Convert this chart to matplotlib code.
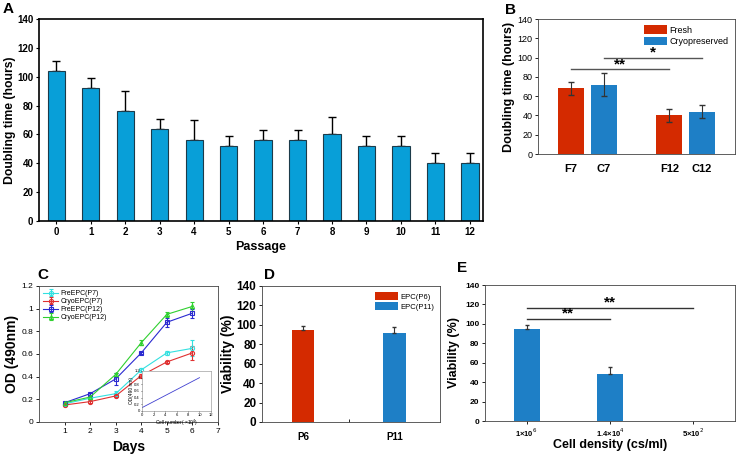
import numpy as np
import matplotlib.pyplot as plt

plt.rcParams['font.family'] = ['Liberation Sans', 'DejaVu Sans']

W, H = 746, 455

# ---------------- data ----------------
passages = list(range(13))
dt_mean = [104, 92, 76, 64, 56, 52, 56, 56, 60, 52, 52, 40, 40]
dt_err = [7, 7, 14, 7, 14, 7, 7, 7, 12, 7, 7, 7, 7]

b_labels = ['F7', 'C7', 'F12', 'C12']
b_mean = [68, 72, 40, 44]
b_err = [7, 12, 7, 7]

days = [1, 2, 3, 4, 5, 6]
c_series = {
    'FreEPC(P7)': ([0.16, 0.21, 0.25, 0.46, 0.61, 0.65], [0.01, 0.01, 0.02, 0.02, 0.02, 0.07]),
    'CryoEPC(P7)': ([0.15, 0.18, 0.23, 0.41, 0.53, 0.61], [0.01, 0.01, 0.01, 0.01, 0.01, 0.06]),
    'FreEPC(P12)': ([0.17, 0.25, 0.38, 0.61, 0.88, 0.96], [0.01, 0.01, 0.05, 0.01, 0.04, 0.04]),
    'CryoEPC(P12)': ([0.17, 0.22, 0.42, 0.70, 0.95, 1.02], [0.01, 0.01, 0.01, 0.02, 0.02, 0.04]),
}
c_colors = ['#33e0e0', '#e03030', '#2a2ad0', '#30d030']
c_markers = ['o', 'o', 's', '^']
inset_x = [0, 10]
inset_y = [0.1, 1.0]

d_labels = ['P6', 'P11']
d_mean = [95, 92]
d_err = [4, 6]

e_labels = ['1×10$^6$', '1.4×10$^4$', '5×10$^2$']
e_mean = [95, 48, 0]
e_err = [4, 8, 0]

red = '#d42a00'
blue = '#1e7fc6'
cyan = '#089fd8'

fig = plt.figure(figsize=(W / 100, H / 100), dpi=100)


def ax_px(l, t, r, b):
    return fig.add_axes([l / W, 1 - b / H, (r - l) / W, (b - t) / H])


def bold_ticks(ax, size):
    for lab in ax.get_xticklabels() + ax.get_yticklabels():
        lab.set_fontweight('bold')
        lab.set_fontsize(size)


# ---------------- A ----------------
axA = ax_px(39, 19, 483, 221)
axA.bar(passages, dt_mean, width=0.5, color=cyan, edgecolor='#1c3b4a', linewidth=0.8, zorder=2)
axA.errorbar(passages, dt_mean, yerr=[np.zeros(len(dt_err)), dt_err], fmt='none',
             ecolor='black', elinewidth=1, capsize=3, zorder=1)
axA.set_xlim(-0.5, 12.38)
axA.set_ylim(0, 140)
axA.set_yticks(range(0, 141, 20))
axA.set_xticks(passages)
axA.tick_params(length=2, width=0.8, pad=2)
bold_ticks(axA, 7)
axA.set_xlabel('Passage', fontsize=9, fontweight='bold', labelpad=3)
axA.set_ylabel('Doubling time (hours)', fontsize=8.8, fontweight='bold', labelpad=1)
for s in axA.spines.values():
    s.set_linewidth(1.2)
fig.text(3 / W, 1 - 9 / H, 'A', fontsize=11, fontweight='bold', va='center')

# ---------------- B ----------------
axB = ax_px(538, 19, 735, 154)
b_pos = [1, 2, 4, 5]
b_cols = [red, blue, red, blue]
bars = axB.bar(b_pos, b_mean, width=0.8, color=b_cols, zorder=2)
axB.errorbar(b_pos, b_mean, yerr=b_err, fmt='none', ecolor='#333333', elinewidth=0.8, capsize=2.5, zorder=3)
axB.set_xlim(0, 6)
axB.set_ylim(0, 140)
axB.set_yticks(range(0, 141, 20))
axB.set_xticks(b_pos)
axB.set_xticklabels(b_labels)
axB.tick_params(length=2, width=0.6, pad=2, labelsize=6.5)
for lab in axB.get_xticklabels():
    lab.set_fontweight('bold')
    lab.set_fontsize(8)
axB.tick_params(axis='x', pad=7, length=0)
axB.set_ylabel('Doubling time (hours)', fontsize=9, fontweight='bold', labelpad=2)
for s in axB.spines.values():
    s.set_linewidth(0.6)
    s.set_color('#444444')
axB.legend([bars[0], bars[1]], ['Fresh', 'Cryopreserved'], loc='upper right', fontsize=6.5,
           frameon=False, handlelength=2.5, handleheight=1.1, borderaxespad=0.3, labelspacing=0.2,
           handletextpad=0.3)
axB.plot([b_pos[0], b_pos[2]], [88, 88], color='#555555', lw=1)
axB.text((b_pos[0] + b_pos[2]) / 2, 86, '**', ha='center', va='bottom', fontsize=11, fontweight='bold')
axB.plot([b_pos[1], b_pos[3]], [100, 100], color='#555555', lw=1)
axB.text((b_pos[1] + b_pos[3]) / 2, 98, '*', ha='center', va='bottom', fontsize=11, fontweight='bold')
fig.text(505 / W, 1 - 10 / H, 'B', fontsize=11, fontweight='bold', va='center')

# ---------------- C ----------------
axC = ax_px(39, 286, 218, 422)
for (name, (vals, errs)), col, mk in zip(c_series.items(), c_colors, c_markers):
    axC.errorbar(days, vals, yerr=errs, color=col, marker=mk, markersize=3, markerfacecolor='none',
                 markeredgewidth=0.8, lw=0.8, capsize=1.5, elinewidth=0.8, label=name)
axC.set_xlim(0, 7)
axC.set_ylim(0, 1.2)
axC.set_xticks(range(1, 8))
axC.set_yticks([0, 0.2, 0.4, 0.6, 0.8, 1.0, 1.2])
axC.set_yticklabels(['0', '0.2', '0.4', '0.6', '0.8', '1', '1.2'])
axC.tick_params(length=2, width=0.6, pad=2, labelsize=6)
axC.set_xlabel('Days', fontsize=10, fontweight='bold', labelpad=4)
axC.set_ylabel('OD (490nm)', fontsize=10, fontweight='bold', labelpad=2)
for s in axC.spines.values():
    s.set_linewidth(0.6)
    s.set_color('#444444')
axC.legend(loc='upper left', fontsize=5, frameon=False, handlelength=2.2, labelspacing=0.15,
           borderaxespad=0.2, handletextpad=0.3)
fig.text(37 / W, 1 - 275 / H, 'C', fontsize=11, fontweight='bold', va='center')

axI = ax_px(142, 371, 211, 411)
axI.plot(inset_x, inset_y, color='#4040d0', lw=0.6)
axI.set_xlim(0, 12)
axI.set_ylim(0, 1.2)
axI.set_xticks(range(0, 13, 2))
axI.set_yticks([0, 0.2, 0.4, 0.6, 0.8, 1.0, 1.2])
axI.set_yticklabels(['0', '0.2', '0.4', '0.6', '0.8', '1', '1.2'])
axI.tick_params(length=1, width=0.4, pad=0.5, labelsize=3)
axI.set_xlabel('Cell number( ×10$^4$)', fontsize=3.5, labelpad=0.5)
axI.set_ylabel('OD(490 nm)', fontsize=3.5, labelpad=0.5)
for s in axI.spines.values():
    s.set_linewidth(0.4)
    s.set_color('#888888')

# ---------------- D ----------------
axD = ax_px(262, 286, 440, 422)
d_pos = [1, 2]
dbars = axD.bar(d_pos, d_mean, width=0.25, color=[red, blue], zorder=2)
axD.errorbar(d_pos, d_mean, yerr=[[0, 0], d_err], fmt='none', ecolor='#333333', elinewidth=0.8,
             capsize=1.5, zorder=3)
axD.set_xlim(0.55, 2.5)
axD.set_ylim(0, 140)
axD.set_yticks(range(0, 141, 20))
axD.set_xticks(d_pos)
axD.set_xticks([1.5], minor=True)
axD.set_xticklabels(d_labels)
axD.tick_params(length=2, width=0.6, pad=2)
axD.tick_params(axis='x', length=0, pad=7)
axD.tick_params(axis='x', which='minor', length=2, direction='in')
bold_ticks(axD, 8.5)
for lab in axD.get_xticklabels():
    lab.set_fontsize(7)
axD.set_ylabel('Viability (%)', fontsize=10, fontweight='bold', labelpad=1)
for s in axD.spines.values():
    s.set_linewidth(0.6)
    s.set_color('#444444')
axD.legend([dbars[0], dbars[1]], ['EPC(P6)', 'EPC(P11)'], loc='upper right', fontsize=5.5,
           frameon=False, handlelength=3, handleheight=1.2, borderaxespad=0.4, labelspacing=0.2,
           handletextpad=0.3)
fig.text(264 / W, 1 - 275 / H, 'D', fontsize=11, fontweight='bold', va='center')

# ---------------- E ----------------
axE = ax_px(485, 285, 735, 421)
e_pos = [1, 2, 3]
axE.bar(e_pos, e_mean, width=0.31, color=blue, zorder=2)
axE.errorbar(e_pos[:2], e_mean[:2], yerr=[[0, 0], e_err[:2]], fmt='none', ecolor='#333333',
             elinewidth=0.8, capsize=1.5, zorder=3)
axE.set_xlim(0.5, 3.5)
axE.set_ylim(0, 140)
axE.set_yticks(range(0, 141, 20))
axE.set_xticks(e_pos)
axE.set_xticklabels(e_labels)
axE.tick_params(length=2, width=0.6, pad=2)
bold_ticks(axE, 6)
for lab in axE.get_xticklabels():
    lab.set_fontsize(5.5)
axE.set_xlabel('Cell density (cs/ml)', fontsize=9, fontweight='bold', labelpad=0)
axE.set_ylabel('Viability (%)', fontsize=9, fontweight='bold', labelpad=4)
for s in axE.spines.values():
    s.set_linewidth(0.6)
    s.set_color('#444444')
axE.plot([1, 2], [105, 105], color='#333333', lw=1)
axE.text(1.5, 104, '**', ha='center', va='bottom', fontsize=11, fontweight='bold')
axE.plot([1, 3], [116, 116], color='#333333', lw=1)
axE.text(2.0, 115, '**', ha='center', va='bottom', fontsize=11, fontweight='bold')
fig.text(457 / W, 1 - 268 / H, 'E', fontsize=11, fontweight='bold', va='center')

fig.savefig('out.png', dpi=100)
